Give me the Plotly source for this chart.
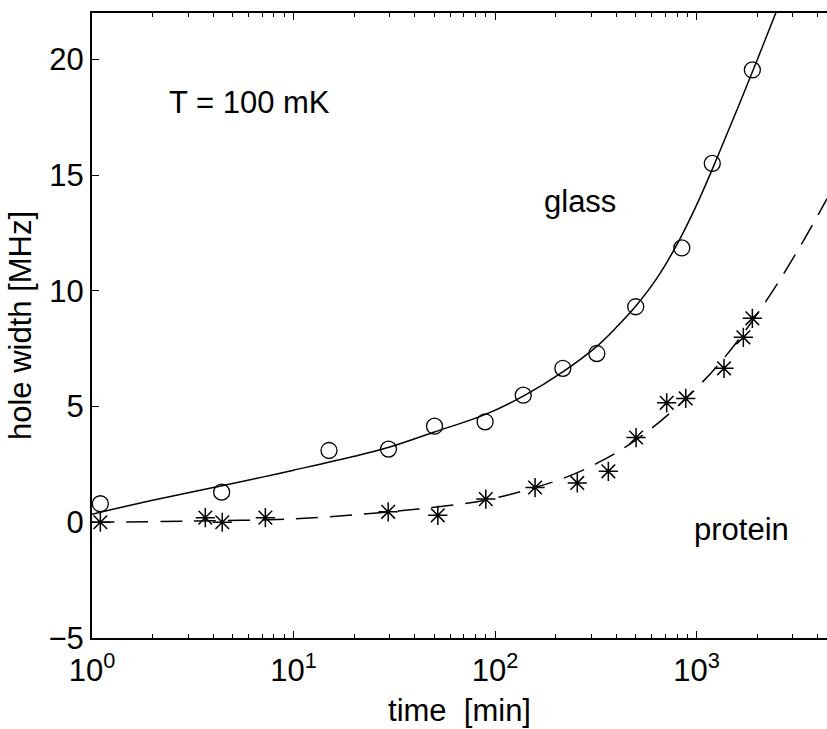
import numpy as np
import plotly.graph_objects as go

# ---- data ----
glass_t = [1.1, 4.4, 15, 29.6, 50.1, 89.3, 138, 217, 320, 499, 845, 1197, 1892]
glass_w = [0.8, 1.3, 3.1, 3.16, 4.15, 4.34, 5.49, 6.65, 7.29, 9.31, 11.85, 15.5, 19.54]

protein_t = [1.1, 3.65, 4.43, 7.25, 29.5, 52, 90, 158, 256, 365, 501, 711, 884, 1369, 1707, 1892]
protein_w = [0.0, 0.2, 0.0, 0.2, 0.45, 0.3, 1.0, 1.5, 1.7, 2.2, 3.66, 5.16, 5.35, 6.65, 7.99, 8.81]

# fitted curves
glass_fit_t = [1, 2, 4, 7, 10, 20, 30, 50, 89, 138, 217, 320, 398, 501, 631, 794, 1000, 1259, 1585, 1995, 2512]
glass_fit_w = [0.35, 0.95, 1.5, 1.95, 2.25, 2.85, 3.25, 3.9, 4.65, 5.45, 6.5, 7.6, 8.4, 9.35, 10.5, 11.95, 13.7, 15.7, 17.8, 19.95, 22.15]

protein_fit_t = [1, 3, 10, 30, 50, 89, 158, 200, 251, 316, 398, 501, 631, 794, 1000, 1259, 1585, 1995, 2512, 3162, 3981, 4440]
protein_fit_w = [0.0, 0.05, 0.15, 0.45, 0.65, 0.95, 1.5, 1.78, 2.11, 2.52, 2.99, 3.56, 4.22, 4.96, 5.8, 6.72, 7.79, 8.98, 10.29, 11.71, 13.23, 13.98]

x_major = [1, 10, 100, 1000]
x_major_text = ["10<sup>0</sup>", "10<sup>1</sup>", "10<sup>2</sup>", "10<sup>3</sup>"]
x_minor = [k * 10 ** e for e in range(0, 4) for k in range(2, 10)]
y_ticks = [-5, 0, 5, 10, 15, 20]

FONT = "Liberation Sans, Arial, Helvetica, sans-serif"
FS = 31

fig = go.Figure()
fig.add_trace(go.Scatter(x=glass_fit_t, y=glass_fit_w, mode="lines",
                         line=dict(color="black", width=1.5, shape="spline", smoothing=1.0),
                         showlegend=False, hoverinfo="skip"))
fig.add_trace(go.Scatter(x=protein_fit_t, y=protein_fit_w, mode="lines",
                         line=dict(color="black", width=1.5, dash="22px,12px", shape="spline", smoothing=1.0),
                         showlegend=False, hoverinfo="skip"))
fig.add_trace(go.Scatter(x=glass_t, y=glass_w, mode="markers",
                         marker=dict(symbol="circle-open", size=16, color="black",
                                     line=dict(width=1.3, color="black")),
                         cliponaxis=False, showlegend=False))
fig.add_trace(go.Scatter(x=protein_t, y=protein_w, mode="markers",
                         marker=dict(symbol="asterisk-open", size=16, color="black",
                                     line=dict(width=1.5, color="black")),
                         cliponaxis=False, showlegend=False))

fig.add_annotation(x=np.log10(2.355), y=18.15, xref="x", yref="y", text="T = 100 mK",
                   showarrow=False, xanchor="left", yanchor="middle",
                   font=dict(family=FONT, size=FS, color="black"))
fig.add_annotation(x=np.log10(170.6), y=13.85, xref="x", yref="y", text="glass",
                   showarrow=False, xanchor="left", yanchor="middle",
                   font=dict(family=FONT, size=FS, color="black"))
fig.add_annotation(x=np.log10(948), y=-0.3, xref="x", yref="y", text="protein",
                   showarrow=False, xanchor="left", yanchor="middle",
                   font=dict(family=FONT, size=FS, color="black"))

fig.update_xaxes(type="log", range=[0, np.log10(4440)],
                 tickmode="array", tickvals=x_major, ticktext=x_major_text,
                 ticks="inside", ticklen=7, tickwidth=1.2, tickcolor="black",
                 ticklabelstandoff=4,
                 minor=dict(tickmode="array", tickvals=x_minor, ticks="inside",
                            ticklen=4, tickwidth=1.2, tickcolor="black", showgrid=False),
                 showline=True, linecolor="black", linewidth=2, mirror="allticks",
                 showgrid=False, zeroline=False,
                 tickfont=dict(family=FONT, size=FS, color="black"),
                 title=dict(text="time\u00a0\u00a0[min]", standoff=12,
                            font=dict(family=FONT, size=FS, color="black")))
fig.update_yaxes(range=[-5, 22], tickmode="array", tickvals=y_ticks,
                 ticks="inside", ticklen=7, tickwidth=1.2, tickcolor="black",
                 showline=True, linecolor="black", linewidth=2, mirror=False,
                 showgrid=False, zeroline=False,
                 tickfont=dict(family=FONT, size=FS, color="black"),
                 title=dict(text="hole width [MHz]", standoff=8,
                            font=dict(family=FONT, size=FS, color="black")))

fig.update_layout(width=827, height=729, paper_bgcolor="white", plot_bgcolor="white",
                  margin=dict(l=92, r=0, t=13, b=91))

fig.write_html("out.html")
